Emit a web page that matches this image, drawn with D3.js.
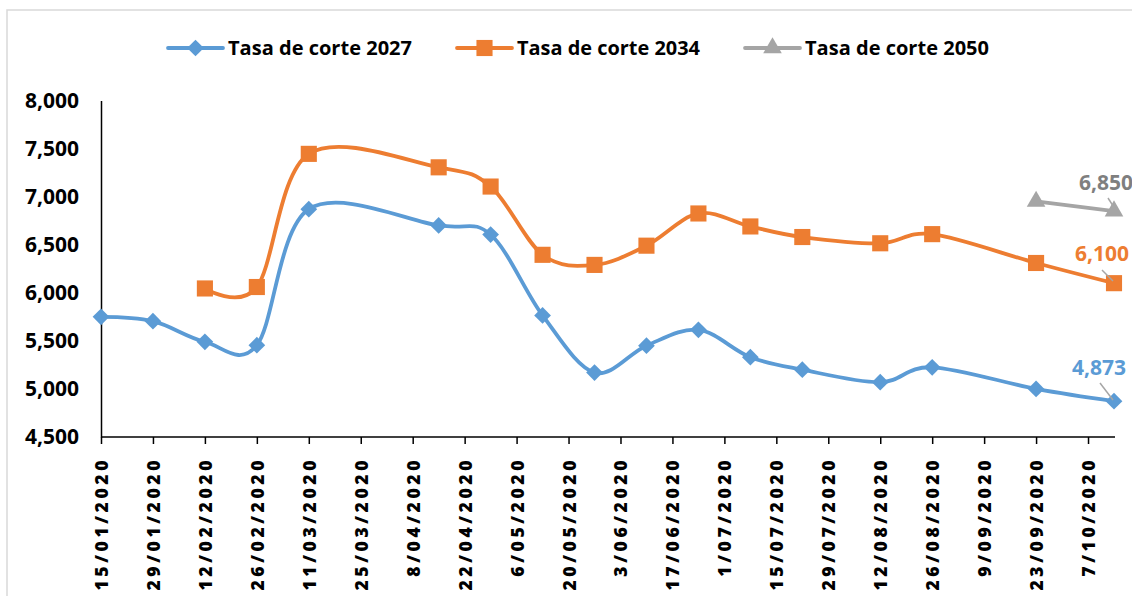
<!DOCTYPE html>
<html>
<head>
<meta charset="utf-8">
<script src="https://cdn.jsdelivr.net/npm/d3@7"></script>
<style>
  body { margin: 0; background: #fff; }
  svg { display: block; font-family: "Open Sans", sans-serif; }
</style>
</head>
<body>
<svg id="chart" width="1132" height="596"></svg>
<script>
const tickLabels = ["15/01/2020", "29/01/2020", "12/02/2020", "26/02/2020", "11/03/2020", "25/03/2020",
  "8/04/2020", "22/04/2020", "6/05/2020", "20/05/2020", "3/06/2020", "17/06/2020", "1/07/2020",
  "15/07/2020", "29/07/2020", "12/08/2020", "26/08/2020", "9/09/2020", "23/09/2020", "7/10/2020"];

const dates2027 = ["15/01/2020", "29/01/2020", "12/02/2020", "26/02/2020", "11/03/2020", "15/04/2020",
  "29/04/2020", "13/05/2020", "27/05/2020", "10/06/2020", "24/06/2020", "8/07/2020", "22/07/2020",
  "12/08/2020", "26/08/2020", "23/09/2020", "14/10/2020"];
const tasa2027 = [5750, 5705, 5490, 5455, 6870, 6700, 6605, 5765, 5170, 5450, 5615, 5330, 5200,
  5070, 5225, 5000, 4873];

const dates2034 = ["12/02/2020", "26/02/2020", "11/03/2020", "15/04/2020", "29/04/2020", "13/05/2020",
  "27/05/2020", "10/06/2020", "24/06/2020", "8/07/2020", "22/07/2020", "12/08/2020", "26/08/2020",
  "23/09/2020", "14/10/2020"];
const tasa2034 = [6045, 6060, 7445, 7305, 7105, 6395, 6290, 6490, 6825, 6690, 6580, 6515, 6610,
  6310, 6100];

const dates2050 = ["23/09/2020", "14/10/2020"];
const tasa2050 = [6950, 6850];

const yTicks = [4500, 5000, 5500, 6000, 6500, 7000, 7500, 8000];

const parse = d3.timeParse("%d/%m/%Y");

const series = [
  { name: "Tasa de corte 2027", dates: dates2027, values: tasa2027, color: "#5b9bd5", label: "#5b9bd5",
    marker: d3.symbolSquare, rot: 45, size: 140, smooth: true, legendX: 168, textX: 228, textW: 184,
    labelPos: [1099, 367], leader: [[1100, 383], [1113, 400]] },
  { name: "Tasa de corte 2034", dates: dates2034, values: tasa2034, color: "#ed7d31", label: "#ed7d31",
    marker: d3.symbolSquare, rot: 0, size: 260, smooth: true, legendX: 457, textX: 517, textW: 183,
    labelPos: [1102, 253], leader: [[1102, 270], [1113, 281]] },
  { name: "Tasa de corte 2050", dates: dates2050, values: tasa2050, color: "#a5a5a5", label: "#7f7f7f",
    marker: d3.symbolTriangle, rot: 0, size: 150, smooth: false, legendX: 745, textX: 805, textW: 184,
    labelPos: [1106, 182], leader: [[1108, 198], [1115, 209]] }
];

const svg = d3.select("#chart");

// chart area border (Excel style)
svg.append("rect")
  .attr("x", 7).attr("y", 10)
  .attr("width", 1140).attr("height", 600)
  .attr("fill", "none").attr("stroke", "#d9d9d9").attr("stroke-width", 1.5);

const x = d3.scaleTime()
  .domain([parse("15/01/2020"), parse("14/10/2020")])
  .range([101, 1114]);
const y = d3.scaleLinear()
  .domain([4500, 8000])
  .range([437, 100.5]);

// y axis
const yAxis = svg.append("g")
  .attr("transform", "translate(101,0)")
  .call(d3.axisLeft(y).tickValues(yTicks).tickFormat(d3.format(",")).tickSize(0).tickPadding(22));
yAxis.select(".domain").attr("stroke", "#000").attr("stroke-width", 1.5);
yAxis.selectAll("text")
  .attr("font-family", "Open Sans").attr("font-weight", 700).attr("font-size", 21).attr("fill", "#000");

// x axis
const tickDates = tickLabels.map(parse);
const xAxis = svg.append("g")
  .attr("transform", "translate(0,437)")
  .call(d3.axisBottom(x).tickValues(tickDates).tickSize(7).tickSizeOuter(0)
    .tickFormat((d, i) => tickLabels[i]));
xAxis.select(".domain").attr("stroke", "#000").attr("stroke-width", 1.5).attr("d", "M101,0H1115");
xAxis.selectAll(".tick line").attr("stroke", "#000").attr("stroke-width", 1.5);
xAxis.selectAll("text")
  .attr("transform", "rotate(-90)")
  .attr("x", -20).attr("y", 0).attr("dy", "0.37em")
  .attr("text-anchor", "end")
  .attr("font-family", "Open Sans").attr("font-weight", 800).attr("font-size", 17.5)
  .attr("letter-spacing", 3.6).attr("fill", "#000");

// lines and markers
series.forEach(s => {
  const pts = s.dates.map((d, i) => [x(parse(d)), y(s.values[i])]);
  const line = d3.line().curve(s.smooth ? d3.curveCardinal.tension(0) : d3.curveLinear);
  svg.append("path")
    .attr("d", line(pts))
    .attr("fill", "none").attr("stroke", s.color).attr("stroke-width", 3.8)
    .attr("stroke-linejoin", "round").attr("stroke-linecap", "round");
  svg.append("g").selectAll("path")
    .data(pts)
    .join("path")
    .attr("transform", d => `translate(${d[0]},${d[1]}) rotate(${s.rot})`)
    .attr("d", d3.symbol(s.marker, s.size))
    .attr("fill", s.color);

  // leader line + last-value label
  svg.append("line")
    .attr("x1", s.leader[0][0]).attr("y1", s.leader[0][1])
    .attr("x2", s.leader[1][0]).attr("y2", s.leader[1][1])
    .attr("stroke", "#a6a6a6").attr("stroke-width", 1.5);
  svg.append("text")
    .attr("x", s.labelPos[0]).attr("y", s.labelPos[1]).attr("dy", "0.36em")
    .attr("text-anchor", "middle")
    .attr("font-weight", 700).attr("font-size", 21).attr("fill", s.label)
    .text(d3.format(",")(s.values[s.values.length - 1]));

  // legend
  const lg = svg.append("g").attr("transform", "translate(0,48)");
  lg.append("line")
    .attr("x1", s.legendX).attr("x2", s.legendX + 55)
    .attr("stroke", s.color).attr("stroke-width", 3.8).attr("stroke-linecap", "round");
  lg.append("path")
    .attr("transform", `translate(${s.legendX + 27.5},0) rotate(${s.rot})`)
    .attr("d", d3.symbol(s.marker, s.size))
    .attr("fill", s.color);
  lg.append("text")
    .attr("x", s.textX).attr("dy", "0.36em")
    .attr("font-weight", 700).attr("font-size", 20).attr("fill", "#000")
    .attr("textLength", s.textW).attr("lengthAdjust", "spacingAndGlyphs")
    .text(s.name);
});
</script>
</body>
</html>
